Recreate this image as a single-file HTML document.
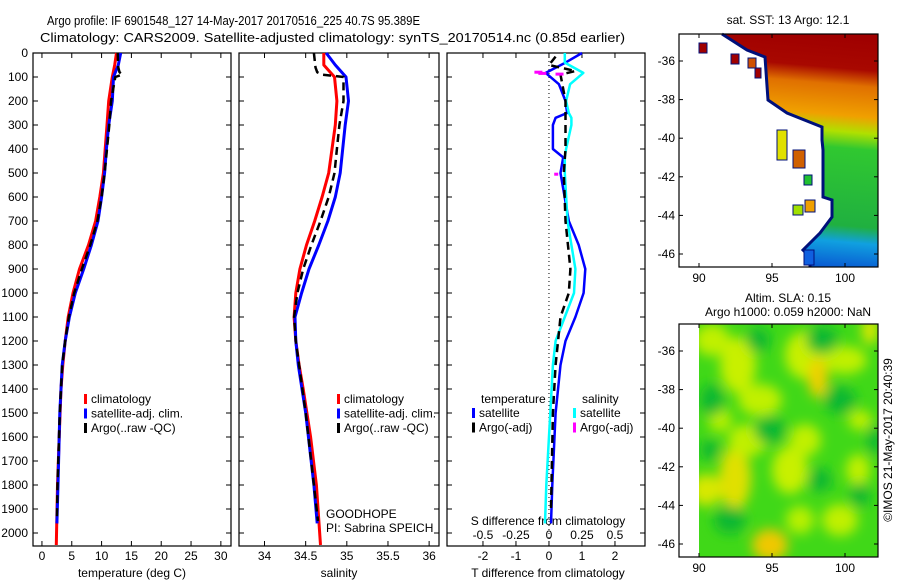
<!DOCTYPE html>
<html><head><meta charset="utf-8"><style>
html,body{margin:0;padding:0;background:#fff;}
svg{display:block;font-family:"Liberation Sans",sans-serif;}
</style></head><body>
<svg id="fig" width="900" height="580" viewBox="0 0 900 580">
<defs>
<linearGradient id="sstg" gradientUnits="userSpaceOnUse" x1="800" y1="34" x2="780" y2="267">
<stop offset="0" stop-color="#a00000"/><stop offset="0.13" stop-color="#a80800"/>
<stop offset="0.2" stop-color="#e07000"/><stop offset="0.33" stop-color="#f0a000"/>
<stop offset="0.4" stop-color="#b0e000"/><stop offset="0.47" stop-color="#30c830"/>
<stop offset="0.8" stop-color="#20b040"/><stop offset="0.87" stop-color="#10a0e0"/>
<stop offset="1" stop-color="#0850d0"/></linearGradient>
<filter id="blur"><feGaussianBlur stdDeviation="6"/></filter>
<clipPath id="slaclip"><rect x="699" y="324" width="179" height="233"/></clipPath>
</defs>
<g id="titles" font-size="13" fill="#000">
<text x="47" y="25" textLength="373" lengthAdjust="spacingAndGlyphs">Argo profile: IF 6901548_127 14-May-2017 20170516_225 40.7S 95.389E</text>
<text x="40" y="42" textLength="585" lengthAdjust="spacingAndGlyphs">Climatology: CARS2009. Satellite-adjusted climatology: synTS_20170514.nc (0.85d earlier)</text>
</g>
<g id="plots"></g>
<g id="maps"></g>
</svg>
<script>
// ---- data arrays ----
const depthTicks=[0,100,200,300,400,500,600,700,800,900,1000,1100,1200,1300,1400,1500,1600,1700,1800,1900,2000];
const tempTicks=[0,5,10,15,20,25,30];
const salTicks=[34,34.5,35,35.5,36];
const salTickLabels=["34","34.5","35","35.5","36"];
const tdTicks=[-2,-1,0,1,2];
const sdTicks=[-0.5,-0.25,0,0.25,0.5];
const sdTickLabels=["-0.5","-0.25","0","0.25","0.5"];
const latTicks=[-36,-38,-40,-42,-44,-46];
const lonTicks=[90,95,100];

const climDepth=[0,50,100,200,300,400,500,600,700,800,900,1000,1100,1200,1300,1400,1600,1800,2050];
const climTemp=[12.5,12.2,11.8,11.2,10.9,10.6,10.3,9.7,9.0,7.8,6.3,5.2,4.4,3.9,3.5,3.2,2.9,2.6,2.4];
const climSal=[34.72,34.72,34.85,34.88,34.86,34.82,34.78,34.7,34.61,34.51,34.43,34.38,34.36,34.38,34.42,34.47,34.56,34.63,34.68];
const satDepth=[0,50,100,200,300,400,500,600,700,800,900,1000,1100,1200,1300,1500,1800,1960];
const satTemp=[13.2,12.8,12.0,11.8,11.2,10.8,10.5,10.0,9.4,8.3,7.0,5.6,4.6,3.9,3.4,3.0,2.7,2.5];
const satSal=[34.75,34.86,34.99,35.02,34.98,34.95,34.92,34.86,34.77,34.66,34.54,34.45,34.37,34.38,34.41,34.5,34.6,34.64];
const argoDepth=[0,60,80,90,100,200,300,400,500,600,700,800,900,1000,1100,1200,1300,1500,1800,1950];
const argoTemp=[12.7,12.8,13.0,13.5,12.3,11.6,11.3,10.9,10.5,10.0,9.3,8.1,6.7,5.4,4.5,3.9,3.4,3.0,2.6,2.5];
const argoSal=[34.6,34.62,34.64,34.7,34.96,34.96,34.91,34.88,34.85,34.78,34.68,34.57,34.47,34.4,34.36,34.38,34.42,34.5,34.6,34.65];

const dDepth=[0,40,83,130,200,250,270,300,400,435,500,700,800,900,1000,1100,1200,1300,1500,1800,1960];
const tDiffSat=[1.0,0.5,-0.1,0.3,0.5,0.55,0.2,0.12,0.12,0.43,0.35,0.6,0.9,1.1,1.05,0.8,0.5,0.35,0.2,0.1,0.06];
const sDiffSat=[0.12,0.12,0.26,0.16,0.13,0.15,0.17,0.17,0.13,0.12,0.12,0.14,0.17,0.2,0.19,0.12,0.05,0.03,0.01,-0.02,-0.03];
const aDepth=[15,50,75,90,200,400,500,700,900,1000,1100,1300,1500,1900];
const tDiffArgo=[0.2,0.0,0.8,0.35,0.5,0.5,0.45,0.5,0.65,0.6,0.35,0.2,0.12,0.06];
const sArgoDepth=[80,85,88,505];
const sDiffArgo=[-0.08,-0.05,0.08,0.07];

const sstLabel="sat. SST: 13 Argo: 12.1";
const slaLabel1="Altim. SLA: 0.15";
const slaLabel2="Argo h1000: 0.059 h2000: NaN";

// ---- helpers ----
const NS="http://www.w3.org/2000/svg";
const plots=document.getElementById('plots');
const maps=document.getElementById('maps');
function mk(tag,attrs,parent){const e=document.createElementNS(NS,tag);for(const k in attrs)e.setAttribute(k,attrs[k]);(parent||plots).appendChild(e);return e;}
function txt(x,y,s,anchor,parent,size){const t=mk('text',{x:x,y:y,'font-size':size||12,'text-anchor':anchor||'start',fill:'#000'},parent);t.textContent=s;return t;}
const Y0=53,Y1=546;
const yD=d=>Y0+d*0.24;

function panel(name,x0,x1,xmin,xmax){
  const sx=v=>x0+(v-xmin)/(xmax-xmin)*(x1-x0);
  const g=mk('g',{});
  
  
  const r=mk('rect',{x:x0,y:Y0,width:x1-x0,height:Y1-Y0,fill:'none',stroke:'#000','stroke-width':1.2},g);
  
  
  depthTicks.forEach(d=>{mk('line',{x1:x0,x2:x0+5,y1:yD(d),y2:yD(d),stroke:'#000'},g);mk('line',{x1:x1,x2:x1-5,y1:yD(d),y2:yD(d),stroke:'#000'},g);});
  return {g,sx};
}
function line(g,xs,ds,sx,color,w,dash,name){
  const p=xs.map((v,i)=>(sx(v)).toFixed(1)+','+yD(ds[i]).toFixed(1)).join(' ');
  const l=mk('polyline',{points:p,fill:'none',stroke:color,'stroke-width':w,'stroke-dasharray':dash||'none','stroke-linejoin':'round'},g);
  
  
  return l;
}

depthTicks.forEach(d=>{const t=txt(28,yD(d)+4,String(d),'end');});

// Panel 1 temperature
const p1=panel('temperature-panel',33,231,-1.5,31.7);
tempTicks.forEach(v=>{mk('line',{x1:p1.sx(v),x2:p1.sx(v),y1:Y1,y2:Y1-5,stroke:'#000'},p1.g);mk('line',{x1:p1.sx(v),x2:p1.sx(v),y1:Y0,y2:Y0+5,stroke:'#000'},p1.g);const t=txt(p1.sx(v),560,String(v),'middle',p1.g);});
txt(132,577,'temperature (deg C)','middle',p1.g);
line(p1.g,climTemp,climDepth,p1.sx,'#f00',3,null,'climatology-temp-line');
line(p1.g,satTemp,satDepth,p1.sx,'#00f',3,null,'satellite-temp-line');
line(p1.g,argoTemp,argoDepth,p1.sx,'#000',2.5,'8,5','argo-temp-line');

// Panel 2 salinity
const p2=panel('salinity-panel',239,439,33.69,36.12);
salTicks.forEach((v,i)=>{mk('line',{x1:p2.sx(v),x2:p2.sx(v),y1:Y1,y2:Y1-5,stroke:'#000'},p2.g);mk('line',{x1:p2.sx(v),x2:p2.sx(v),y1:Y0,y2:Y0+5,stroke:'#000'},p2.g);const t=txt(p2.sx(v),560,salTickLabels[i],'middle',p2.g);});
txt(339,577,'salinity','middle',p2.g);
line(p2.g,climSal,climDepth,p2.sx,'#f00',3,null,'climatology-salinity-line');
line(p2.g,satSal,satDepth,p2.sx,'#00f',3,null,'satellite-salinity-line');
line(p2.g,argoSal,argoDepth,p2.sx,'#000',2.5,'8,5','argo-salinity-line');
txt(326,518,'GOODHOPE','start',p2.g);
txt(326,532,'PI: Sabrina SPEICH','start',p2.g);

function legend(x,y,items,g,nm){items.forEach((it,i)=>{const r=mk('rect',{x:x,y:y+i*14.5-9,width:3,height:10,fill:it[0]},g);const t=txt(x+7,y+i*14.5,it[1],'start',g);});}
legend(84,403,[['#f00','climatology'],['#00f','satellite-adj. clim.'],['#000','Argo(..raw -QC)']],p1.g,'temp-legend');
legend(337,403,[['#f00','climatology'],['#00f','satellite-adj. clim.'],['#000','Argo(..raw -QC)']],p2.g,'sal-legend');

// Panel 3 differences
const p3=panel('difference-panel',447,645,-3.09,2.91);
const sxS=v=>p3.sx(v*4);
mk('line',{x1:p3.sx(0),x2:p3.sx(0),y1:Y0,y2:Y1,stroke:'#000','stroke-dasharray':'1,3'},p3.g);
tdTicks.forEach(v=>{mk('line',{x1:p3.sx(v),x2:p3.sx(v),y1:Y1,y2:Y1-5,stroke:'#000'},p3.g);mk('line',{x1:p3.sx(v),x2:p3.sx(v),y1:Y0,y2:Y0+5,stroke:'#000'},p3.g);const t=txt(p3.sx(v),560,String(v),'middle',p3.g);});
sdTicks.forEach((v,i)=>{const t=txt(sxS(v),539,sdTickLabels[i],'middle',p3.g);});
txt(548,525,'S difference from climatology','middle',p3.g);
txt(548,577,'T difference from climatology','middle',p3.g);
line(p3.g,tDiffSat,dDepth,p3.sx,'#00f',2.5,null,'temp-diff-satellite-line');
line(p3.g,sDiffSat,dDepth,sxS,'#0ff',2.5,null,'sal-diff-satellite-line');
line(p3.g,tDiffArgo,aDepth,p3.sx,'#000',2.5,'8,5','temp-diff-argo-line');
sDiffArgo.forEach((v,i)=>{const r=mk('rect',{x:sxS(v)-4,y:yD(sArgoDepth[i])-1.5,width:i==3?4:8,height:3,fill:'#f0f'},p3.g);});
txt(481,403,'temperature','start',p3.g);
txt(582,403,'salinity','start',p3.g);
legend(472,417,[['#00f','satellite'],['#000','Argo(-adj)']],p3.g,'tdiff-legend');
legend(573,417,[['#0ff','satellite'],['#f0f','Argo(-adj)']],p3.g,'sdiff-legend');

// ---- maps ----
const MX0=679,MX1=878;
const lonX=l=>699+(l-90)*14.6;
function mapAxes(yTop,yBot,name){
  const latY=l=>yTop+27+(-36-l)*19.3;
  const g=mk('g',{},maps);
  
  
  latTicks.forEach(l=>{mk('line',{x1:MX0,x2:MX0+4,y1:latY(l),y2:latY(l),stroke:'#000'},g);mk('line',{x1:MX1,x2:MX1-4,y1:latY(l),y2:latY(l),stroke:'#000'},g);const t=txt(675,latY(l)+4,String(l),'end',g);});
  lonTicks.forEach(l=>{mk('line',{x1:lonX(l),x2:lonX(l),y1:yBot,y2:yBot-4,stroke:'#000'},g);mk('line',{x1:lonX(l),x2:lonX(l),y1:yTop,y2:yTop+4,stroke:'#000'},g);const t=txt(lonX(l),yBot+15,String(l),'middle',g);});
  return g;
}
// SST map
const sst=mk('g',{},maps);


mk('rect',{x:699,y:34,width:179,height:233,fill:'url(#sstg)'},sst);
mk('polygon',{points:'679,34 722,34 747,50 765,57 768,100 787,113 822,127 822,140 823,150 823,197 832,200 832,217 820,233 803,250 810,257 810,267 679,267',fill:'#fff'},sst);
mk('polyline',{points:'722,34 747,50 765,57 768,100 787,113 822,127 822,140 823,150 823,197 832,200 832,217 820,233 803,250 810,257 810,267',fill:'none',stroke:'#00107a','stroke-width':3},sst);
[[699,43,8,10,'#a00000'],[731,54,8,10,'#a00000'],[748,58,8,10,'#d05000'],[755,68,6,10,'#a00000'],[777,130,10,30,'#e0e000'],[793,150,12,18,'#d06000'],[804,175,8,10,'#20c030'],[805,200,10,12,'#f0a000'],[793,205,10,10,'#a0e000'],[804,250,10,15,'#1060e0']].forEach(b=>{const r=mk('rect',{x:b[0],y:b[1],width:b[2],height:b[3],fill:b[4],stroke:'#00107a','stroke-width':1},sst);});
mk('rect',{x:MX0,y:34,width:MX1-MX0,height:233,fill:'none',stroke:'#000','stroke-width':1.2},sst);
mapAxes(34,267,'sst-map-axes');
txt(788,24,sstLabel,'middle',maps);

// SLA map
const sla=mk('g',{},maps);


mk('rect',{x:699,y:324,width:179,height:233,fill:'#40d818'},sla);
const blobs=mk('g',{filter:'url(#blur)','clip-path':'url(#slaclip)'},sla);
[[712,340,18,16,'#c0f000'],[738,365,18,28,'#c8f000'],[760,400,22,16,'#c0f000'],[805,355,20,24,'#c8f000'],[818,378,10,20,'#f0d000'],[845,360,22,14,'#c0f000'],[706,490,16,16,'#d8e800'],[735,478,16,32,'#e0e000'],[748,440,20,16,'#c0f000'],[790,470,18,24,'#c8f000'],[805,440,16,16,'#c0f000'],[770,545,18,16,'#f0c800'],[840,520,18,16,'#c0f000'],[720,420,12,12,'#b8f000'],[870,330,8,15,'#e0e800'],[858,470,12,16,'#c0f000'],[800,520,14,14,'#b8f000'],[860,420,12,10,'#c0f000']].forEach(b=>{const e=mk('ellipse',{cx:b[0],cy:b[1],rx:b[2],ry:b[3],fill:b[4]},blobs);});
[[758,340,12,12],[822,340,16,14],[712,400,12,16],[840,400,16,14],[770,430,16,14],[730,520,16,14],[875,440,8,16],[820,480,12,12],[710,450,10,10],[860,495,10,12]].forEach(b=>{const e=mk('ellipse',{cx:b[0],cy:b[1],rx:b[2],ry:b[3],fill:'#10b830'},blobs);});
mk('rect',{x:MX0,y:324,width:MX1-MX0,height:233,fill:'none',stroke:'#000','stroke-width':1.2},sla);
mapAxes(324,557,'sla-map-axes');
txt(788,302,slaLabel1,'middle',maps);
txt(788,316,slaLabel2,'middle',maps);
const cr=txt(0,0,'©IMOS 21-May-2017 20:40:39','middle',maps);
cr.setAttribute('transform','translate(892,440) rotate(-90)');


</script>
</body></html>
